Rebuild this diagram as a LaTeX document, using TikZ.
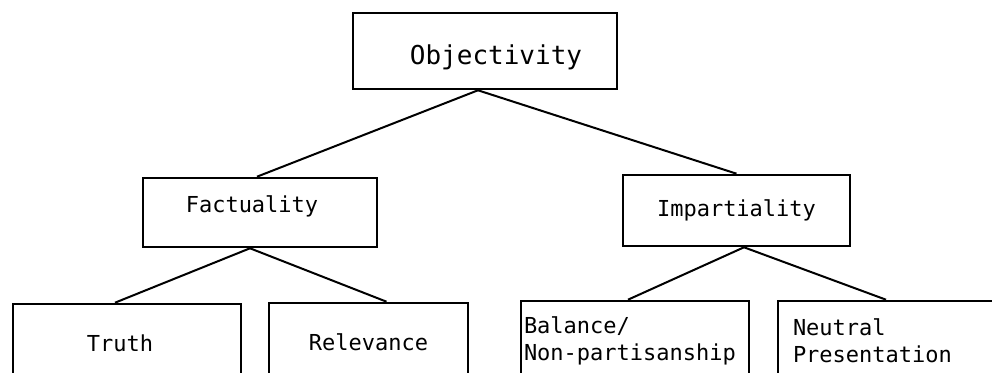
\documentclass[tikz,border=0pt]{standalone}
\usepackage{fontspec}
\setmonofont{DejaVu Sans Mono}
\usepackage{tikz}

\begin{document}
\begin{tikzpicture}[x=0.5pt,y=-0.5pt,line width=1pt,
  box/.style={rectangle,draw=black,line width=1.3pt,inner sep=0pt,
    font=\ttfamily\fontsize{11}{13.5}\selectfont},
  leaf/.style={box,minimum height=40pt,align=left}]
\clip (0,0) rectangle (992,373);
%Node Coordinates
\node at (485,51) [box,minimum width=132pt,minimum height=38pt,text height=14pt,text depth=0pt,
  font=\ttfamily\fontsize{13}{15}\selectfont] (Node1) {\hspace*{11pt}Objectivity};
\node at (260,212.5) [box,minimum width=117pt,minimum height=34.5pt,text height=7pt,text depth=7pt] (Node2) {Factuality\hspace*{8pt}};
\node at (736.5,210.5) [box,minimum width=113.5pt,minimum height=35.5pt] (Node3) {Impartiality};
\node at (127,343) [leaf,minimum width=114pt,minimum height=39pt] (Node4) {Truth\hspace*{7pt}};
\node at (368.5,342) [leaf,minimum width=99.5pt,minimum height=39pt] (Node5) {Relevance};
\node at (635,341) [leaf,text width=111pt,inner xsep=1.5pt] (Node6) {Balance/\\Non-partisanship};
\node at (894,341) [leaf,text width=101pt,inner xsep=7.5pt] (Node7) {Neutral\\Presentation};
%connections
\draw ([xshift=-3.5pt]Node1.south) -- ([xshift=-1.5pt]Node2.north);
\draw ([xshift=-3.5pt]Node1.south) -- (Node3.north);
\draw ([xshift=-5pt]Node2.south) -- ([xshift=-6pt]Node4.north);
\draw ([xshift=-5pt]Node2.south) -- ([xshift=9pt]Node5.north);
\draw ([xshift=3.75pt]Node3.south) -- ([xshift=-3.5pt]Node6.north);
\draw ([xshift=3.75pt]Node3.south) -- ([xshift=-4pt]Node7.north);
\end{tikzpicture}
\end{document}
